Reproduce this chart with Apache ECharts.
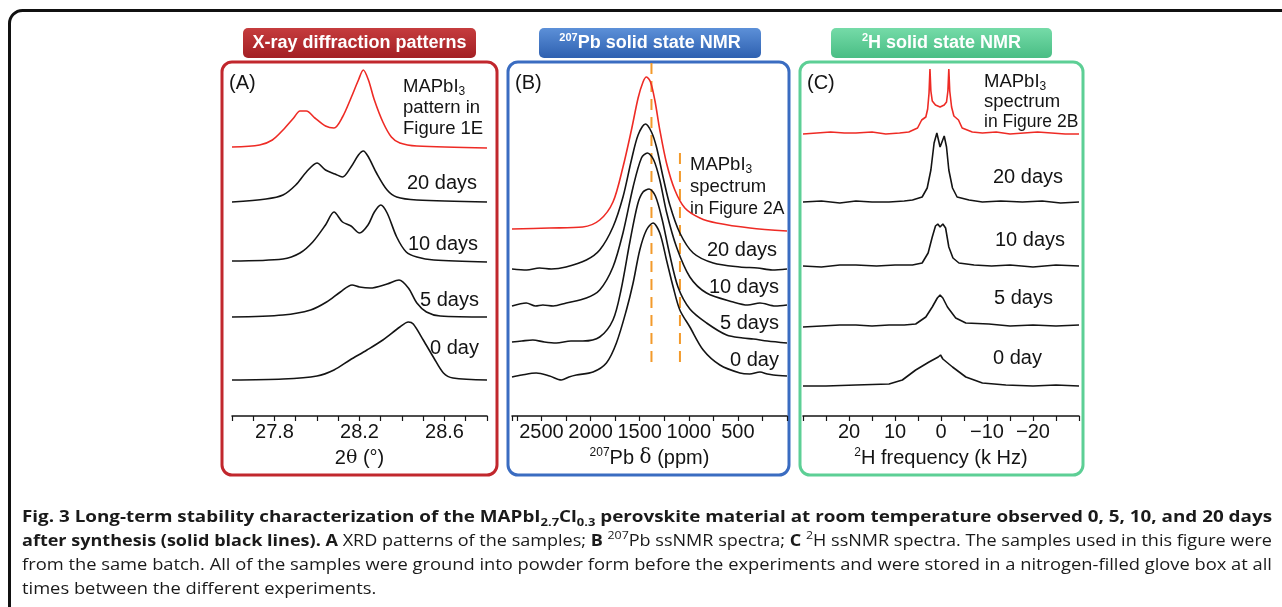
<!DOCTYPE html>
<html><head><meta charset="utf-8">
<script src="https://cdn.jsdelivr.net/npm/echarts@6/dist/echarts.min.js"></script>
<style>html,body{margin:0;padding:0;background:#fff}#c{width:1282px;height:607px}</style>
</head><body><div id="c"></div>
<script>
// ---------------- DATA ----------------
// Panel A : XRD, x = 2θ (°), y = intensity above each trace's baseline (a.u.)
const xrdRange = [27.6, 28.8];
const xrdTickLabels = ['27.8', '28.2', '28.6'];
const xrdNames = ['MAPbI3 (Figure 1E)', '20 days', '10 days', '5 days', '0 day'];
const xrdOffsets = [269, 215, 154, 99, 36];
const xrdRef = [[27.60,0],[27.73,2],[27.79,7],[27.84,17],[27.89,29],[27.92,36],[27.95,36],[27.99,29],[28.04,21],[28.08,19],[28.12,30],[28.16,49],[28.195,67],[28.218,77],[28.242,67],[28.27,47],[28.31,25],[28.35,10],[28.39,4],[28.47,1],[28.80,-1]];
const xrd20 = [[27.60,-1],[27.76,2],[27.84,6],[27.90,16],[27.95,29],[28.00,38],[28.04,31],[28.085,27],[28.12,24],[28.16,34],[28.195,46],[28.218,50],[28.242,44],[28.28,28],[28.33,11],[28.375,4],[28.47,1],[28.80,-1]];
const xrd10 = [[27.60,1],[27.84,3],[27.92,9],[27.98,20],[28.04,37],[28.08,50],[28.12,40],[28.16,36],[28.20,29],[28.24,37],[28.27,50],[28.30,57],[28.33,49],[28.375,25],[28.42,10],[28.47,5],[28.55,2],[28.80,0]];
const xrd5 = [[27.60,0],[27.84,2],[27.97,7],[28.045,15],[28.11,25],[28.165,32],[28.20,30],[28.25,29],[28.33,33],[28.386,37],[28.43,29],[28.47,14],[28.515,5],[28.58,1],[28.80,0]];
const xrd0 = [[27.60,0],[27.84,1],[28.00,4],[28.08,10],[28.155,20],[28.235,30],[28.31,40],[28.39,53],[28.43,58],[28.453,56],[28.50,40],[28.55,22],[28.595,7],[28.64,2],[28.80,0]];

// Panel B : 207Pb ssNMR, x = δ (ppm)
const pbRange = [0, 2800];
const pbTickLabels = ['500', '1000', '1500', '2000', '2500'];
const pbOffsets = [186, 147, 111, 74, 40];
const pbRef = [[2800,1],[2420,2],[2080,3],[1907,10],[1772,28],[1670,63],[1584,100],[1516,132],[1466,148],[1431,153],[1390,148],[1346,130],[1295,100],[1227,67],[1142,40],[1040,22],[887,12],[717,7],[377,2],[0,-1]];
const pb20 = [[2800,0],[2650,-1],[2520,1],[2400,0],[2250,2],[2043,9],[1907,19],[1772,42],[1670,72],[1584,109],[1516,134],[1441,145],[1380,137],[1329,122],[1262,92],[1193,64],[1091,36],[955,16],[751,6],[480,2],[300,1],[150,-1],[0,0]];
const pb10 = [[2800,-1],[2655,2],[2560,-1],[2486,0],[2380,-1],[2247,2],[2043,7],[1907,15],[1772,38],[1670,72],[1567,118],[1482,147],[1421,152],[1357,145],[1295,125],[1227,93],[1125,58],[989,28],[819,12],[547,3],[400,0],[275,2],[120,-1],[0,0]];
const pb5 = [[2800,0],[2700,1],[2588,2],[2470,0],[2349,-1],[2200,1],[2078,1],[1907,5],[1772,22],[1690,52],[1600,100],[1520,138],[1466,150],[1404,153],[1340,146],[1270,122],[1200,90],[1110,55],[989,33],[819,19],[615,7],[450,4],[343,3],[200,1],[0,-1]];
const pb0 = [[2800,-1],[2700,1],[2553,3],[2417,0],[2298,-4],[2220,-1],[2145,1],[1975,4],[1839,13],[1737,33],[1635,66],[1567,93],[1499,126],[1431,146],[1364,153],[1295,143],[1227,116],[1159,89],[1091,66],[989,49],[853,26],[683,11],[479,3],[380,2],[275,4],[200,2],[139,1],[0,0]];
// dashed reference lines: [δ, y from, y to]
const pbGuides = [[1380, 54, 353], [1090, 54, 264]];

// Panel C : 2H ssNMR, x = frequency (kHz)
const hRange = [-30, 30];
const hTickLabels = ['20', '10', '0', '-10', '-20'];
const hOffsets = [283, 214, 150, 90, 30];
const hRef = [[30,-1],[27,0],[24,1],[21,0],[18.5,0],[15,1],[12,-1],[9,0],[7,1],[5.1,5],[4.2,13],[3.3,16],[2.9,24],[2.6,40],[2.4,64],[2.2,42],[1.9,32],[1.2,28],[0.2,26],[-0.7,28],[-1.2,31],[-1.5,42],[-1.7,64],[-1.9,42],[-2.3,26],[-2.8,17],[-3.8,13],[-4.6,5],[-6.8,1],[-9,0],[-12,1],[-15,-1],[-18,0],[-21,1],[-24,0],[-27,-1],[-30,-1]];
const h20 = [[30,0],[26,1],[22,-1],[18.5,1],[15,0],[11.3,0],[8,1],[6.2,2],[4.1,5],[3.0,14],[2.2,32],[1.5,59],[0.9,69],[0.2,55],[-0.7,66],[-1.2,55],[-1.7,32],[-2.5,14],[-3.5,5],[-6.1,2],[-9,0],[-13,1],[-17.7,0],[-22,1],[-26,-1],[-30,0]];
const h10 = [[30,0],[26,-1],[22,1],[18.5,1],[14,0],[10,1],[6.2,1],[4.1,3],[2.8,13],[1.9,29],[1.2,40],[0.7,42],[0.2,39],[-0.4,42],[-1.0,38],[-1.7,19],[-2.6,8],[-3.9,3],[-7.2,1],[-11,0],[-15,1],[-20,-1],[-25,1],[-30,0]];
const h5 = [[30,-1],[26,0],[22,1],[18.5,1],[15,0],[11.3,1],[8,1],[5.5,2],[3.3,9],[1.9,19],[0.8,28],[0.2,31],[-0.4,28],[-1.4,19],[-3.2,8],[-5.4,3],[-10.4,2],[-15,0],[-20,1],[-25,0],[-30,1]];
const h0 = [[30,0],[25,0],[18.5,1],[11.3,2],[8.4,6],[5.5,16],[2.6,24],[0.6,29],[0.1,31],[-0.4,27],[-2.5,19],[-5.4,9],[-9,3],[-14.1,1],[-20,0],[-25,1],[-30,0]];

// ---------------- STYLE ----------------
const SANS = 'Liberation Sans, Arial, sans-serif';
const CAP = 'Open Sans, Noto Sans, sans-serif';
const INK = '#141414';
const RED = '#ee2b25';
const colors = [RED, INK, INK, INK, INK];

function curveSeries(xi, curves, offsets, smooth) {
  return curves.map((c, i) => ({
    type: 'line', xAxisIndex: xi, yAxisIndex: xi, symbol: 'none', smooth: smooth,
    smoothMonotone: 'none', silent: true,
    lineStyle: { color: colors[i], width: 1.6 },
    data: c.map(p => [p[0], p[1] + offsets[i]])
  }));
}
const guideSeries = pbGuides.map(g => ({
  type: 'line', xAxisIndex: 1, yAxisIndex: 1, symbol: 'none', silent: true,
  lineStyle: { color: '#f39a2b', width: 2, type: [11, 7] },
  data: [[g[0], g[1]], [g[0], g[2]]]
}));

const supRich = { fontFamily: SANS, fontSize: 12, verticalAlign: 'top', lineHeight: 12, fill: INK, color: INK };
function xAxisCfg(gi, range, interval, inverse, ticks, fmt, name, rich) {
  return {
    gridIndex: gi, type: 'value', min: range[0], max: range[1], interval: interval, inverse: inverse,
    axisLine: { lineStyle: { color: INK, width: 1.5 } },
    axisTick: { length: 5, lineStyle: { color: INK, width: 1.2 } },
    splitLine: { show: false },
    axisLabel: { margin: 6, fontFamily: SANS, fontSize: 20, color: INK, showMinLabel: true, showMaxLabel: true,
      formatter: v => { const s = fmt(v); return ticks.includes(s) ? s.replace('-', '\u2212') : ''; } },
    name: name, nameLocation: 'middle', nameGap: 31,
    nameTextStyle: { fontFamily: SANS, fontSize: 20, color: INK, lineHeight: 22, rich: rich }
  };
}

// ---------------- GRAPHICS ----------------
const g = [];
g.push({ type: 'rect', silent: true, shape: { x: 9.5, y: 10.5, width: 1400, height: 800, r: 13 }, style: { fill: 'none', stroke: '#111', lineWidth: 3 } });
[[222, 275, '#c1272d'], [508, 281, '#3a6cc1'], [800, 283, '#5dcf95']].forEach(p => {
  g.push({ type: 'rect', silent: true, shape: { x: p[0], y: 62, width: p[1], height: 413, r: 10 }, style: { fill: 'none', stroke: p[2], lineWidth: 3 } });
});
[[243, 233, '#c53c3d', '#a31f24'], [539, 222, '#5c90d8', '#2e60b0'], [831, 221, '#75dba8', '#49bd84']].forEach(p => {
  g.push({ type: 'rect', silent: true, shape: { x: p[0], y: 28, width: p[1], height: 30, r: 5 },
    style: { fill: { type: 'linear', x: 0, y: 0, x2: 0, y2: 1, colorStops: [{ offset: 0, color: p[2] }, { offset: 1, color: p[3] }] } } });
});
const badgeRich = {
  t: { fontFamily: SANS, fontWeight: 'bold', fontSize: 18, lineHeight: 22, color: '#fff', fill: '#fff' },
  s: { fontFamily: SANS, fontWeight: 'bold', fontSize: 11, lineHeight: 11, verticalAlign: 'top', color: '#fff', fill: '#fff' }
};
[[359.5, '{t|X-ray diffraction patterns}'], [650, '{s|207}{t|Pb solid state NMR}'], [941.5, '{s|2}{t|H solid state NMR}']].forEach(p => {
  g.push({ type: 'text', silent: true, x: p[0], y: 43, style: { text: p[1], rich: badgeRich, align: 'center', verticalAlign: 'middle', fill: '#fff' } });
});

const panelRich = {
  m: { fontFamily: SANS, fontSize: 18.5, lineHeight: 22, color: INK, fill: INK },
  n: { fontFamily: SANS, fontSize: 17.5, lineHeight: 22, color: INK, fill: INK },
  d: { fontFamily: SANS, fontSize: 20, lineHeight: 22, color: INK, fill: INK },
  s: { fontFamily: SANS, fontSize: 12, lineHeight: 12, verticalAlign: 'bottom', color: INK, fill: INK }
};
function ptxt(x, y, text) {
  g.push({ type: 'text', silent: true, x: x, y: y, style: { text: text, rich: panelRich, align: 'left', verticalAlign: 'middle' } });
}
// Panel A annotations
ptxt(229, 83, '{d|(A)}');
ptxt(403, 87, '{m|MAPbI}{s|3}'); ptxt(403, 108, '{m|pattern in}'); ptxt(403, 129, '{m|Figure 1E}');
ptxt(407, 183, '{d|20 days}'); ptxt(408, 244, '{d|10 days}'); ptxt(420, 300, '{d|5 days}'); ptxt(430, 348, '{d|0 day}');
// Panel B annotations
ptxt(515, 83, '{d|(B)}');
ptxt(690, 165, '{m|MAPbI}{s|3}'); ptxt(690, 187, '{m|spectrum}'); ptxt(690, 209, '{n|in Figure 2A}');
ptxt(707, 250, '{d|20 days}'); ptxt(709, 287, '{d|10 days}'); ptxt(720, 323, '{d|5 days}'); ptxt(730, 360, '{d|0 day}');
// Panel C annotations
ptxt(807, 83, '{d|(C)}');
ptxt(984, 82, '{m|MAPbI}{s|3}'); ptxt(984, 102, '{m|spectrum}'); ptxt(984, 122, '{n|in Figure 2B}');
ptxt(993, 177, '{d|20 days}'); ptxt(995, 240, '{d|10 days}'); ptxt(994, 298, '{d|5 days}'); ptxt(993, 358, '{d|0 day}');

// Caption
const capStyles = {
  b: { fontFamily: CAP, fontWeight: 'bold', fontSize: 16, lineHeight: 22, color: '#1a1a1a', fill: '#1a1a1a' },
  bs: { fontFamily: CAP, fontWeight: 'bold', fontSize: 11, lineHeight: 11, verticalAlign: 'bottom', color: '#1a1a1a', fill: '#1a1a1a' },
  r: { fontFamily: CAP, fontWeight: 'normal', fontSize: 16, lineHeight: 22, color: '#1a1a1a', fill: '#1a1a1a' },
  rsup: { fontFamily: CAP, fontWeight: 'normal', fontSize: 11, lineHeight: 11, verticalAlign: 'top', color: '#1a1a1a', fill: '#1a1a1a' }
};
const capLines = [
  [['Fig. 3 Long-term stability characterization of the MAPbI', 'b'], ['2.7', 'bs'], ['Cl', 'b'], ['0.3', 'bs'], [' perovskite material at room temperature observed 0, 5, 10, and 20 days', 'b']],
  [['after synthesis (solid black lines). A', 'b'], [' XRD patterns of the samples; ', 'r'], ['B', 'b'], [' ', 'r'], ['207', 'rsup'], ['Pb ssNMR spectra; ', 'r'], ['C', 'b'], [' ', 'r'], ['2', 'rsup'], ['H ssNMR spectra. The samples used in this figure were', 'r']],
  [['from the same batch. All of the samples were ground into powder form before the experiments and were stored in a nitrogen-filled glove box at all', 'r']],
  [['times between the different experiments.', 'r']]
];
const capY = [517, 541, 565, 589];
const ctx = document.createElement('canvas').getContext('2d');
function measure(segs) {
  let w = 0;
  segs.forEach(s => { const st = capStyles[s[1]]; ctx.font = st.fontWeight + ' ' + st.fontSize + 'px ' + st.fontFamily; w += ctx.measureText(s[0]).width; });
  return w;
}
let lastScale = 1;
capLines.forEach((segs, i) => {
  let sc = i < 3 ? 1250 / measure(segs) : lastScale;
  lastScale = sc;
  g.push({ type: 'text', silent: true, x: 22, y: capY[i], scaleX: sc,
    style: { text: segs.map(s => '{' + s[1] + '|' + s[0] + '}').join(''), rich: capStyles, align: 'left', verticalAlign: 'middle' } });
});

// ---------------- OPTION ----------------
const option = {
  animation: false,
  backgroundColor: '#fff',
  grid: [
    { left: 232, right: 795, top: 62, bottom: 191 },
    { left: 512, right: 495, top: 62, bottom: 191 },
    { left: 803, right: 203, top: 62, bottom: 191 }
  ],
  xAxis: [
    xAxisCfg(0, xrdRange, 0.1, false, xrdTickLabels, v => v.toFixed(1), '2{th|θ} (°)', { th: { fontFamily: 'DejaVu Serif', fontSize: 19 } }),
    xAxisCfg(1, pbRange, 250, true, pbTickLabels, v => String(Math.round(v)), '{sup|207}Pb {dl|δ} (ppm)', { sup: supRich, dl: { fontFamily: 'DejaVu Serif', fontSize: 20 } }),
    xAxisCfg(2, hRange, 5, true, hTickLabels, v => String(Math.round(v)), '{sup|2}H frequency (k Hz)', { sup: supRich })
  ],
  yAxis: [0, 1, 2].map(i => ({ gridIndex: i, type: 'value', min: 0, max: 354, show: false })),
  series: [].concat(
    curveSeries(0, [xrdRef, xrd20, xrd10, xrd5, xrd0], xrdOffsets, 0.3),
    guideSeries,
    curveSeries(1, [pbRef, pb20, pb10, pb5, pb0], pbOffsets, 0.3),
    curveSeries(2, [hRef, h20, h10, h5, h0], hOffsets, false)
  ),
  graphic: g
};
const chart = echarts.init(document.getElementById('c'), null, { renderer: 'canvas' });
chart.setOption(option);
</script></body></html>
